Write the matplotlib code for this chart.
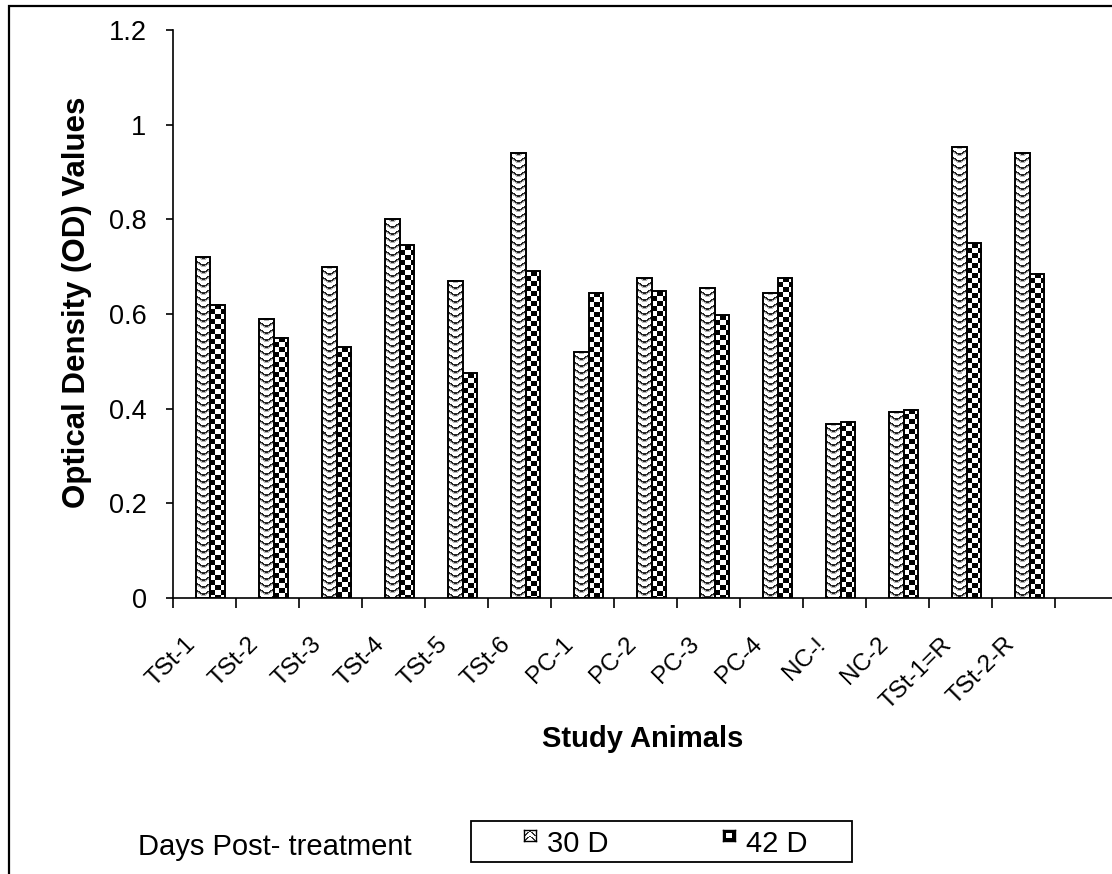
#optical density bar chart for study animals, 30 D vs 42 D post-treatment

import numpy as np
import matplotlib
matplotlib.use('Agg')
import matplotlib.pyplot as plt
from matplotlib.patches import Rectangle

plt.rcParams['font.family'] = ['Liberation Sans', 'DejaVu Sans']

animals = ['TSt-1', 'TSt-2', 'TSt-3', 'TSt-4', 'TSt-5', 'TSt-6', 'PC-1', 'PC-2',
           'PC-3', 'PC-4', 'NC-!', 'NC-2', 'TSt-1=R', 'TSt-2-R']
od_30d = [0.72, 0.59, 0.70, 0.80, 0.67, 0.94, 0.52, 0.675, 0.655, 0.645, 0.368, 0.393, 0.953, 0.94]
od_42d = [0.62, 0.55, 0.53, 0.745, 0.475, 0.69, 0.645, 0.648, 0.597, 0.677, 0.372, 0.398, 0.75, 0.685]
series_names = ['30 D', '42 D']
y_ticks = [0, 0.2, 0.4, 0.6, 0.8, 1.0, 1.2]
y_tick_labels = ['0', '0.2', '0.4', '0.6', '0.8', '1', '1.2']

W, H, DPI = 1112, 874, 100
XMIN, XMAX = -0.5, 14.4
YMIN, YMAX = 0, 1.2
AX_POS = [173 / W, 1 - 598 / H, 1 - 173 / W, (598 - 30) / H]
BAR_W = 0.23


#pixel patterns used in place of the excel fills
def chevron(h, w):
    rows = np.arange(h)[:, None]
    cols = np.arange(w)[None, :]
    phase = (rows + 0.6 * np.abs(cols - (w - 1) / 2)) % 7
    img = np.where(phase < 1.6, 0.15, np.where(phase < 3.0, 0.7, 1.0))
    return img


def legend_chevron(h, w):
    rows = np.arange(h)[:, None]
    cols = np.arange(w)[None, :]
    phase = (rows - 0.8 * np.abs(cols - (w - 1) / 2)) % 5
    return np.where(phase < 1.5, 0.2, 1.0)


def checker(h, w, size=5):
    rows = np.arange(h)[:, None]
    cols = np.arange(w)[None, :]
    return np.where(((rows // size) + (cols // size)) % 2 == 0, 1.0, 0.0)


def legend_checker(h, w):
    #black square with a white centre, like the excel legend key
    img = np.zeros((h, w))
    img[3:h - 3, 3:w - 3] = 1.0
    return img


def patterned_bars(ax, xs, values, pattern):
    px_x = W * AX_POS[2] / (XMAX - XMIN)
    px_y = H * AX_POS[3] / (YMAX - YMIN)
    for x, v in zip(xs, values):
        w_px = max(int(round(BAR_W * px_x)), 1)
        h_px = max(int(round(v * px_y)), 1)
        img = pattern(h_px, w_px)
        x0 = x - BAR_W / 2
        ax.imshow(img, cmap='gray', vmin=0, vmax=1, interpolation='nearest',
                  extent=(x0, x0 + BAR_W, 0, v), aspect='auto', zorder=2)
    ax.bar(xs, values, BAR_W, fill=False, edgecolor='black', linewidth=1.4, zorder=3)


def main():
    fig = plt.figure(figsize=(W / DPI, H / DPI), dpi=DPI)
    ax = fig.add_axes(AX_POS)
    ax.set_autoscale_on(False)

    x = np.arange(len(animals))
    patterned_bars(ax, x - 0.02, od_30d, chevron)
    patterned_bars(ax, x + 0.21, od_42d, checker)

    ax.set_xlim(XMIN, XMAX)
    ax.set_ylim(YMIN, YMAX)

    #y axis
    ax.set_yticks(y_ticks)
    ax.set_yticklabels(y_tick_labels, fontsize=19.5)
    ax.tick_params(axis='y', direction='out', length=5, width=1.2, pad=14)
    ax.set_ylabel('Optical Density (OD) Values', fontsize=22.5, fontweight='bold')
    ax.yaxis.set_label_coords(-0.086, 0.52)

    #x axis: boundary ticks as minor, labels on major
    ax.set_xticks(np.arange(len(animals) + 1) - 0.5, minor=True)
    ax.set_xticks(x - 0.2)
    ax.set_xticklabels(animals, fontsize=17.5, rotation=45, ha='right', va='center',
                       rotation_mode='anchor')
    ax.tick_params(axis='x', which='major', length=0, pad=31)
    ax.tick_params(axis='x', which='minor', direction='out', length=7, width=1.2)

    for side in ['top', 'right']:
        ax.spines[side].set_visible(False)
    for side in ['left', 'bottom']:
        ax.spines[side].set_linewidth(1.2)

    fig.text(643 / W, 1 - 739 / H, 'Study Animals', fontsize=21, fontweight='bold',
             ha='center', va='center')

    #outer chart border
    fig.add_artist(Rectangle((9 / W, -0.1), 1.2, 1.1 - 5.5 / H, transform=fig.transFigure,
                             fill=False, edgecolor='black', linewidth=1.6))

    #legend drawn by hand
    fig.text(138 / W, 1 - 847 / H, 'Days Post- treatment', fontsize=21, ha='left', va='center')
    fig.add_artist(Rectangle((471 / W, 1 - 862 / H), (852 - 471) / W, (862 - 821) / H,
                             transform=fig.transFigure, fill=False, edgecolor='black',
                             linewidth=1.3))
    for name, pattern, sx in [(series_names[0], legend_chevron, 524),
                              (series_names[1], legend_checker, 723)]:
        sw = fig.add_axes([sx / W, 1 - 841 / H, 12 / W, 11 / H])
        sw.imshow(pattern(11, 12), cmap='gray', vmin=0, vmax=1, interpolation='nearest',
                  aspect='auto')
        sw.set_xticks([])
        sw.set_yticks([])
        for sp in sw.spines.values():
            sp.set_linewidth(1.0)
        fig.text((sx + 23) / W, 1 - 844 / H, name, fontsize=21, ha='left', va='center')

    fig.savefig('out.png', dpi=DPI)


if __name__ == '__main__':
    main()
